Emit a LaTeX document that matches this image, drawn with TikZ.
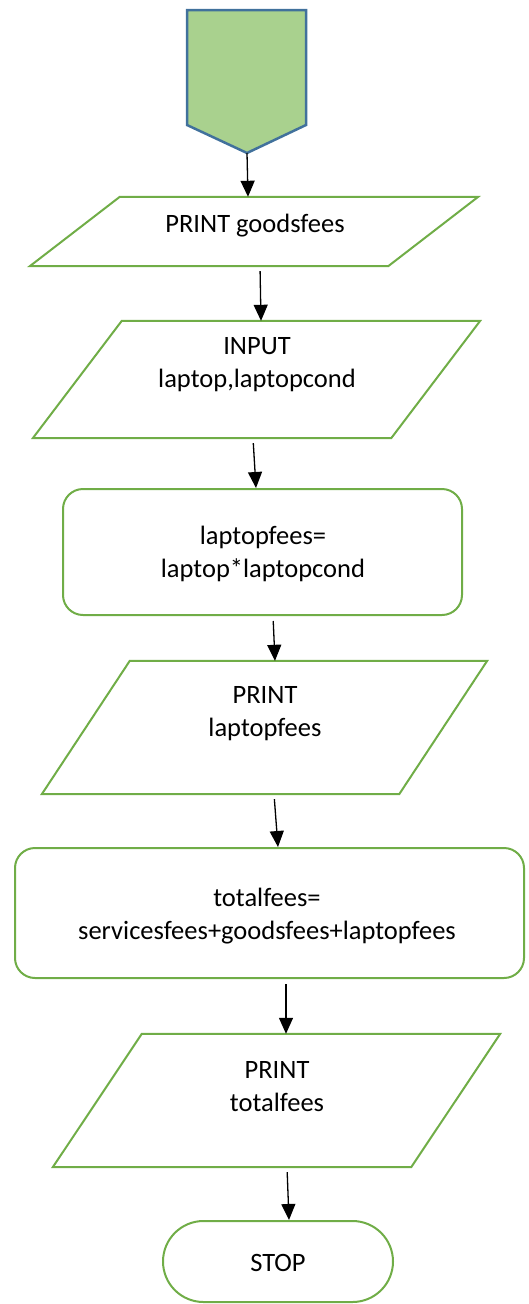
\documentclass[tikz,border=0pt]{standalone}
\usepackage{fontspec}
\setmainfont{Carlito}
\usetikzlibrary{arrows.meta,shapes.misc}
\definecolor{boxgreen}{HTML}{70AD47}
\definecolor{tagfill}{HTML}{A9D18E}
\definecolor{tagblue}{HTML}{41719C}

\begin{document}
\begin{tikzpicture}[x=1pt,y=-1pt,>={Triangle[length=16pt,width=14pt]},
  io/.style={rectangle,draw=none,inner sep=0pt},
  iobox/.style={draw=boxgreen,line width=2pt},
  proc/.style={rectangle,rounded corners=20pt,draw=boxgreen,line width=2pt,inner sep=0pt},
  term/.style={rounded rectangle,draw=boxgreen,line width=2pt,inner sep=0pt},
  txt/.style={align=center,inner sep=0pt,font=\fontsize{26.5}{33}\selectfont},
  flow/.style={->,line width=1.3pt,shorten <=5pt}]
\useasboundingbox (0,0) rectangle (528,1304);
% off-page connector
\draw[tagblue,fill=tagfill,line width=2.5pt] (187,10) -- (306,10) -- (306,125) -- (247,153) -- (187,125) -- cycle;
\coordinate (tagtip) at (247,153);
% shapes
\node[io,minimum width=448pt,minimum height=69pt] (pgoods) at (254,231.5) {};
\draw[iobox] ([xshift=90pt]pgoods.north west) -- (pgoods.north east) -- ([xshift=-90pt]pgoods.south east) -- (pgoods.south west) -- cycle;
\node[io,minimum width=447pt,minimum height=117pt] (pinput) at (256.5,379.5) {};
\draw[iobox] ([xshift=89pt]pinput.north west) -- (pinput.north east) -- ([xshift=-89pt]pinput.south east) -- (pinput.south west) -- cycle;
\node[proc,minimum width=399pt,minimum height=126pt] (rlaptop) at (262.5,552) {};
\node[io,minimum width=445pt,minimum height=133pt] (plaptop) at (264.5,727.5) {};
\draw[iobox] ([xshift=88pt]plaptop.north west) -- (plaptop.north east) -- ([xshift=-88pt]plaptop.south east) -- (plaptop.south west) -- cycle;
\node[proc,minimum width=509pt,minimum height=130pt] (rtotal) at (269.5,913) {};
\node[io,minimum width=447pt,minimum height=133pt] (ptotal) at (276.5,1100.5) {};
\draw[iobox] ([xshift=89pt]ptotal.north west) -- (ptotal.north east) -- ([xshift=-89pt]ptotal.south east) -- (ptotal.south west) -- cycle;
\node[term,minimum width=230pt,minimum height=81pt] (stop) at (278,1261.5) {};
% texts
\node[txt] (tgoods) at (255,226) {PRINT goodsfees};
\node[txt] (tinput) at (257,365) {INPUT\\laptop,laptopcond};
\node[txt] (tlaptop) at (263,554) {laptopfees=\\laptop*laptopcond};
\node[txt] (tplaptop) at (265,713.5) {PRINT\\laptopfees};
\node[txt] (ttotal) at (267,916) {totalfees=\\servicesfees+goodsfees+laptopfees};
\node[txt] (tptotal) at (277,1087) {PRINT\\totalfees};
\node[txt] (tstop) at (278,1263) {STOP};
% arrows
\draw[flow,shorten <=0pt] (tagtip) -- ([xshift=-6pt]pgoods.north);
\draw[flow] ([xshift=6pt]pgoods.south) -- ([xshift=4.5pt]pinput.north);
\draw[flow] ([xshift=-3.5pt]pinput.south) -- ([xshift=-6.5pt]rlaptop.north);
\draw[flow] ([xshift=10.5pt]rlaptop.south) -- ([xshift=10.5pt]plaptop.north);
\draw[flow] ([xshift=9.5pt]plaptop.south) -- ([xshift=8.5pt]rtotal.north);
\draw[flow] ([xshift=16.5pt]rtotal.south) -- ([xshift=9.5pt]ptotal.north);
\draw[flow] ([xshift=10.5pt]ptotal.south) -- ([xshift=11pt]stop.north);
\end{tikzpicture}
\end{document}
